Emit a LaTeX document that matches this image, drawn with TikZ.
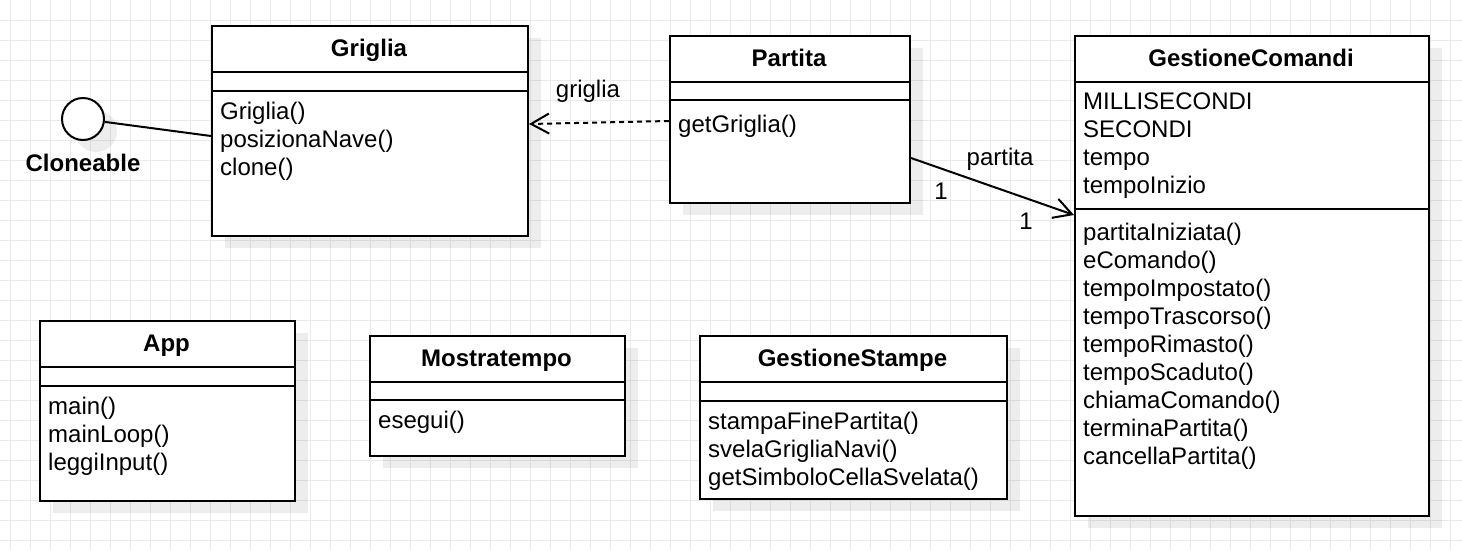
\documentclass[tikz,border=0pt]{standalone}
\usepackage{fontspec}
\setmainfont{Liberation Sans}
\usetikzlibrary{arrows.meta,calc,shadows}
\definecolor{gridc}{RGB}{234,234,234}
\tikzset{
  shadowed/.style={drop shadow={shadow xshift=13pt, shadow yshift=-12pt, fill=black, opacity=0.07}},
  classbox/.style={draw=black, line width=2pt, fill=white, inner sep=0pt, anchor=north west, shadowed},
  sepline/.style={line width=2pt},
  txt/.style={anchor=base west, inner sep=0pt, font=\fontsize{24}{28}\selectfont},
  hdr/.style={anchor=base, inner sep=0pt, font=\fontsize{24}{28}\selectfont\bfseries},
  lbl/.style={anchor=base, inner sep=0pt, font=\fontsize{24}{28}\selectfont},
  conn/.style={line width=2pt, draw=black},
  openhead/.style={-{Straight Barb[length=18pt,width=20pt]}},
  dashline/.style={dash pattern=on 5pt off 4pt}
}
\begin{document}
\begin{tikzpicture}[x=1pt,y=-1pt]
\useasboundingbox (0,0) rectangle (1462,550);
\fill[white] (0,0) rectangle (1462,550);
\foreach \gx in {10,30,...,1450} \draw[gridc, line width=1pt] (\gx,0) -- (\gx,550);
\foreach \gy in {20,40,...,540} \draw[gridc, line width=1pt] (0,\gy) -- (1462,\gy);

% Cloneable interface
\node[circle, draw=black, line width=2pt, fill=white, minimum size=42pt, inner sep=0pt, shadowed] (cloneable) at (83,119) {};
\node[hdr] (cloneable-t) at (83,171) {Cloneable};

% Griglia
\node[classbox, minimum width=316pt, minimum height=210pt] (griglia) at (211,25) {};
\node[hdr] (griglia-t) at (369,56) {Griglia};
\draw[sepline] ($(griglia.north west)+(0,47)$) -- ($(griglia.north east)+(0,47)$);
\draw[sepline] ($(griglia.north west)+(0,66)$) -- ($(griglia.north east)+(0,66)$);
\node[txt] (griglia-m1) at (220,119) {Griglia()};
\node[txt] (griglia-m2) at (220,147) {posizionaNave()};
\node[txt] (griglia-m3) at (220,175) {clone()};

% Partita
\node[classbox, minimum width=240pt, minimum height=167pt] (partita) at (669,35) {};
\node[hdr] (partita-t) at (789,66) {Partita};
\draw[sepline] ($(partita.north west)+(0,47)$) -- ($(partita.north east)+(0,47)$);
\draw[sepline] ($(partita.north west)+(0,65)$) -- ($(partita.north east)+(0,65)$);
\node[txt] (partita-m1) at (678,132) {getGriglia()};

% GestioneComandi
\node[classbox, minimum width=354pt, minimum height=480pt] (gestcom) at (1074,35) {};
\node[hdr] (gestcom-t) at (1251,66) {GestioneComandi};
\draw[sepline] ($(gestcom.north west)+(0,47)$) -- ($(gestcom.north east)+(0,47)$);
\draw[sepline] ($(gestcom.north west)+(0,174)$) -- ($(gestcom.north east)+(0,174)$);
\node[txt] (gestcom-a1) at (1083,109) {MILLISECONDI};
\node[txt] (gestcom-a2) at (1083,137) {SECONDI};
\node[txt] (gestcom-a3) at (1083,165) {tempo};
\node[txt] (gestcom-a4) at (1083,193) {tempoInizio};
\node[txt] (gestcom-m1) at (1083,240) {partitaIniziata()};
\node[txt] (gestcom-m2) at (1083,268) {eComando()};
\node[txt] (gestcom-m3) at (1083,296) {tempoImpostato()};
\node[txt] (gestcom-m4) at (1083,324) {tempoTrascorso()};
\node[txt] (gestcom-m5) at (1083,352) {tempoRimasto()};
\node[txt] (gestcom-m6) at (1083,380) {tempoScaduto()};
\node[txt] (gestcom-m7) at (1083,408) {chiamaComando()};
\node[txt] (gestcom-m8) at (1083,436) {terminaPartita()};
\node[txt] (gestcom-m9) at (1083,464) {cancellaPartita()};

% App
\node[classbox, minimum width=255pt, minimum height=180pt] (app) at (39,320) {};
\node[hdr] (app-t) at (166.5,351) {App};
\draw[sepline] ($(app.north west)+(0,47)$) -- ($(app.north east)+(0,47)$);
\draw[sepline] ($(app.north west)+(0,66)$) -- ($(app.north east)+(0,66)$);
\node[txt] (app-m1) at (48,414) {main()};
\node[txt] (app-m2) at (48,442) {mainLoop()};
\node[txt] (app-m3) at (48,470) {leggiInput()};

% Mostratempo
\node[classbox, minimum width=255pt, minimum height=120pt] (mostra) at (369,335) {};
\node[hdr] (mostra-t) at (496.5,366) {Mostratempo};
\draw[sepline] ($(mostra.north west)+(0,47)$) -- ($(mostra.north east)+(0,47)$);
\draw[sepline] ($(mostra.north west)+(0,65)$) -- ($(mostra.north east)+(0,65)$);
\node[txt] (mostra-m1) at (378,428) {esegui()};

% GestioneStampe
\node[classbox, minimum width=307pt, minimum height=163pt] (stampe) at (699,335) {};
\node[hdr] (stampe-t) at (852.5,366) {GestioneStampe};
\draw[sepline] ($(stampe.north west)+(0,47)$) -- ($(stampe.north east)+(0,47)$);
\draw[sepline] ($(stampe.north west)+(0,66)$) -- ($(stampe.north east)+(0,66)$);
\node[txt] (stampe-m1) at (708,429) {stampaFinePartita()};
\node[txt] (stampe-m2) at (708,457) {svelaGrigliaNavi()};
\node[txt] (stampe-m3) at (708,485) {getSimboloCellaSvelata()};

% Connectors
\draw[conn] (cloneable) -- ($(griglia.north west)+(0,111)$);
\draw[conn, dashline, openhead] ($(partita.north west)+(0,86)$) -- ($(griglia.north east)+(0,99)$);
\node[lbl] (lbl-griglia) at (588,97) {griglia};
\draw[conn, openhead] ($(partita.north east)+(0,123)$) -- ($(gestcom.north west)+(0,180)$);
\node[lbl] (lbl-partita) at (1000,165) {partita};
\node[lbl] (lbl-m1) at (941,199) {1};
\node[lbl] (lbl-m2) at (1026,229) {1};
\end{tikzpicture}
\end{document}
